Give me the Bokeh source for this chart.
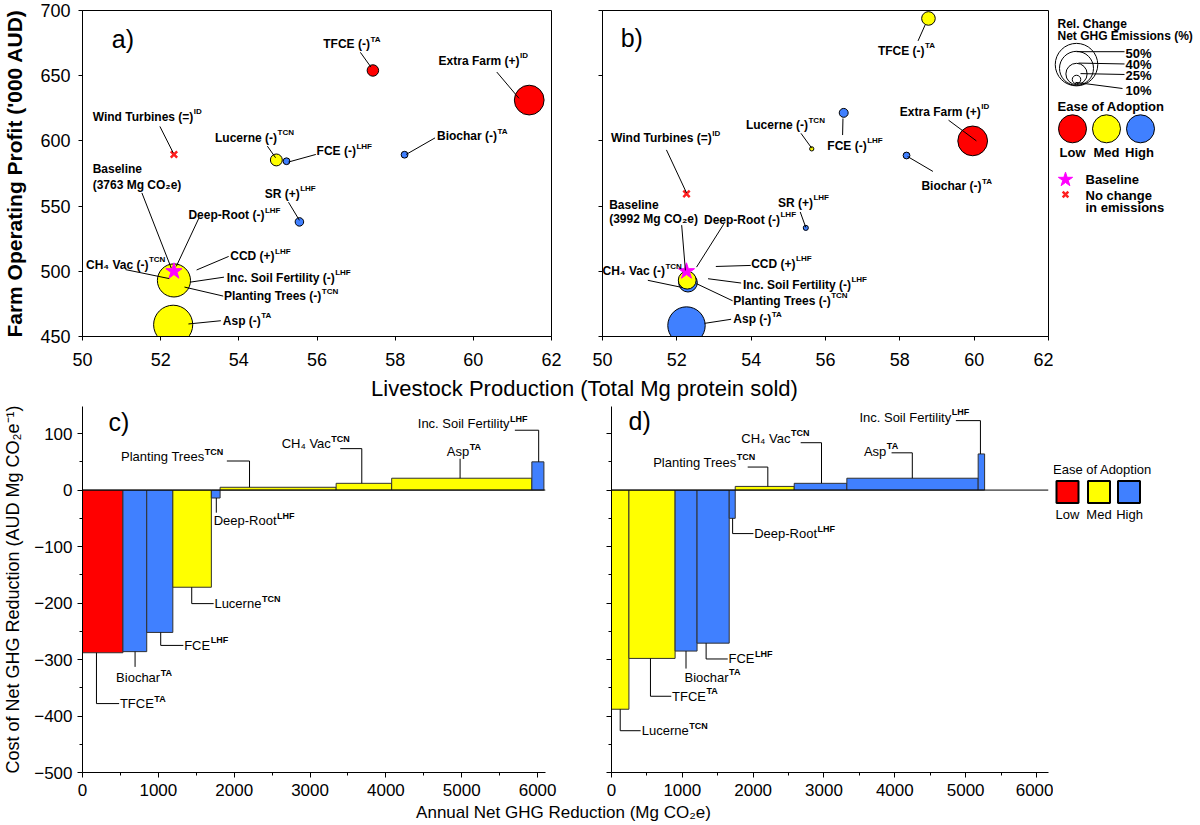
import glob
from bokeh.plotting import figure
from bokeh.layouts import column, row
from bokeh.models import Range1d, Span, FixedTicker, CustomLabelingPolicy
from bokeh.core.properties import value
from bokeh.embed import file_html
from bokeh.resources import INLINE

FONT = "Liberation Sans"

# ------------------------------------------------------------------ data
ease_colors = {"Low": "#ff0000", "Med": "#ffff00", "High": "#4080ff"}

# panel a) : livestock production vs operating profit (scenario 1)
a_option = ["TFCE", "Extra Farm", "Lucerne", "FCE", "Biochar", "SR", "CH4 Vac", "Asp"]
a_protein = [57.43, 61.43, 54.96, 55.22, 58.24, 55.55, 52.34, 52.32]
a_profit = [654.0, 631.3, 585.4, 584.4, 589.4, 537.9, 493.0, 459.0]
a_change_pct = [13.5, 35, 14, 8, 8, 10, 39, 46]
a_ease = ["Low", "Low", "Med", "High", "High", "High", "Med", "Med"]
a_baseline_protein = [52.34]
a_baseline_profit = [500.0]
a_nochange_protein = [52.34]
a_nochange_profit = [589.6]

# panel b) : scenario 2
b_option = ["TFCE", "FCE", "Lucerne", "Extra Farm", "Biochar", "SR", "Inc. Soil Fertility", "CH4 Vac", "Asp"]
b_protein = [58.77, 56.49, 55.63, 59.96, 58.18, 55.47, 52.30, 52.28, 52.26]
b_profit = [693.9, 621.5, 593.9, 600.0, 588.8, 533.3, 491.3, 493.2, 458.4]
b_change_pct = [16, 10.5, 5, 35, 8, 6, 22, 21, 44]
b_ease = ["Med", "High", "Med", "Low", "High", "High", "High", "Med", "High"]
b_baseline_protein = [52.26]
b_baseline_profit = [500.0]
b_nochange_protein = [52.26]
b_nochange_profit = [559.4]

# panel c) : marginal abatement cost curve (scenario 1)
c_option = ["TFCE", "Biochar", "FCE", "Lucerne", "Deep-Root", "Planting Trees", "CH4 Vac", "Asp", "Inc. Soil Fertility"]
c_reduction = [533, 314, 344, 508, 115, 1530, 732, 1848, 159]
c_cost = [-288, -286, -252, -172, -14, 5, 12, 21, 50]
c_ease = ["Low", "High", "High", "Med", "High", "Med", "Med", "Med", "High"]

# panel d) : marginal abatement cost curve (scenario 2)
d_option = ["Lucerne", "TFCE", "Biochar", "FCE", "Deep-Root", "Planting Trees", "CH4 Vac", "Asp", "Inc. Soil Fertility"]
d_reduction = [246, 652, 310, 454, 85, 833, 743, 1854, 91]
d_cost = [-388, -298, -285, -271, -50, 6.5, 12, 21, 64]
d_ease = ["Med", "Med", "High", "High", "High", "Med", "High", "High", "High"]

size_legend_pct = [50, 40, 25, 10]
ease_levels = ["Low", "Med", "High"]

top_xticks = [50, 52, 54, 56, 58, 60, 62]
top_yticks = [450, 500, 550, 600, 650, 700]
bot_xticks = [0, 1000, 2000, 3000, 4000, 5000, 6000]
bot_yticks = [-500, -400, -300, -200, -100, 0, 100]


def size_px(pct):
    return 0.85 * pct


# ------------------------------------------------------------------ text measuring
_font_cache = {}


def measure(text, size, style="normal"):
    try:
        from PIL import ImageFont
        key = (style, size)
        if key not in _font_cache:
            fname = "LiberationSans-Bold.ttf" if style == "bold" else "LiberationSans-Regular.ttf"
            paths = glob.glob("/usr/share/fonts/**/" + fname, recursive=True)
            _font_cache[key] = ImageFont.truetype(paths[0], size)
        return _font_cache[key].getlength(text)
    except Exception:
        f = 0.58 if style == "bold" else 0.54
        return sum((0.28 if ch == " " else f) * size for ch in text)


# ------------------------------------------------------------------ helpers
def base_fig(width, height, xr, yr, mbl, mbr, mbt, mbb):
    p = figure(width=width, height=height, x_range=xr, y_range=yr,
               output_backend="svg", toolbar_location=None,
               min_border_left=mbl, min_border_right=mbr,
               min_border_top=mbt, min_border_bottom=mbb)
    p.xgrid.visible = False
    p.ygrid.visible = False
    p.background_fill_color = "white"
    p.border_fill_color = "white"
    return p


def style_axes(p, size, tick_out, minor_out):
    for ax in (p.xaxis, p.yaxis):
        ax.axis_line_color = "black"
        ax.axis_line_width = 1
        ax.major_tick_line_color = "black"
        ax.minor_tick_line_color = "black"
        ax.major_tick_out = tick_out
        ax.major_tick_in = 0
        ax.minor_tick_out = minor_out
        ax.minor_tick_in = 0
        ax.major_label_text_font = FONT
        ax.major_label_text_font_size = size
        ax.major_label_text_color = "black"
        ax.axis_label_text_font = FONT
        ax.axis_label_text_color = "black"


def hide_tick_labels(ax):
    ax.major_label_policy = CustomLabelingPolicy(code="return []")
    ax.major_label_standoff = 0


def add_labels(p, labels, size, sup_size, style, sup_dy):
    xs, ys, tx = [], [], []
    sx, sy, st, so = [], [], [], []
    for main, sup, x, y in labels:
        xs.append(x)
        ys.append(y)
        tx.append(main)
        if sup:
            sx.append(x)
            sy.append(y)
            st.append(sup)
            so.append(measure(main, size, style) + 0.5)
    p.text(x=xs, y=ys, text=tx, text_font=value(FONT), text_font_size=f"{size}px",
           text_font_style=style, text_baseline="middle", text_align="left", text_color="black")
    if st:
        p.text(x=sx, y=sy, text=st, x_offset=so, y_offset=sup_dy, text_font=value(FONT),
               text_font_size=f"{sup_size}px", text_font_style="bold",
               text_baseline="middle", text_align="left", text_color="black")


def add_leaders(p, segs):
    p.multi_line(xs=[list(s[0]) for s in segs], ys=[list(s[1]) for s in segs],
                 line_color="black", line_width=1)


# ------------------------------------------------------------------ top panels
TOP_H = 372


def top_panel(width, mbl, mbr, option, px, py, pct, ease, bx, by, nx, ny, show_ylabels):
    p = base_fig(width, TOP_H, Range1d(50, 62), Range1d(450, 700), mbl, mbr, 10, 36)
    p.outline_line_color = "black"
    p.outline_line_width = 1
    style_axes(p, "18px", 4, 0)
    p.xaxis.ticker = FixedTicker(ticks=top_xticks, minor_ticks=[])
    p.yaxis.ticker = FixedTicker(ticks=top_yticks, minor_ticks=[])
    p.xaxis.major_label_standoff = 12
    p.yaxis.major_label_standoff = 8
    if show_ylabels:
        p.yaxis.axis_label = "Farm Operating Profit ('000 AUD)"
        p.yaxis.axis_label_text_font_size = "21px"
        p.yaxis.axis_label_text_font_style = "bold"
        p.yaxis.axis_label_standoff = 11
    else:
        hide_tick_labels(p.yaxis)
    order = sorted(range(len(option)), key=lambda i: -pct[i])
    p.scatter(x=[px[i] for i in order], y=[py[i] for i in order],
              size=[size_px(pct[i]) for i in order],
              fill_color=[ease_colors[ease[i]] for i in order],
              line_color="black", line_width=1, marker="circle")
    p.scatter(x=nx, y=ny, marker="x", size=9, line_color="#ff2020", line_width=2.5)
    p.scatter(x=bx, y=by, marker="star", size=17, fill_color="#ff00ff", line_color="#ff00ff")
    return p


pa = top_panel(565, 80, 14, a_option, a_protein, a_profit, a_change_pct, a_ease,
               a_baseline_protein, a_baseline_profit, a_nochange_protein, a_nochange_profit, True)
pb = top_panel(488, 14, 5, b_option, b_protein, b_profit, b_change_pct, b_ease,
               b_baseline_protein, b_baseline_profit, b_nochange_protein, b_nochange_profit, False)

# annotations panel a
a_labels = [
    ("TFCE (-)", "TA", 56.16, 674.2),
    ("Extra Farm (+)", "ID", 59.11, 661.6),
    ("Wind Turbines (=)", "ID", 50.26, 618.7),
    ("Lucerne (-)", "TCN", 53.39, 602.3),
    ("FCE (-)", "LHF", 55.99, 592.2),
    ("Biochar (-)", "TA", 59.07, 603.5),
    ("SR (+)", "LHF", 54.66, 559.3),
    ("Deep-Root (-)", "LHF", 52.71, 542.9),
    ("CCD (+)", "LHF", 53.78, 511.4),
    ("CH\u2084 Vac (-)", "TCN", 50.09, 505.0),
    ("Inc. Soil Fertility (-)", "LHF", 53.69, 494.9),
    ("Planting Trees (-)", "TCN", 53.62, 481.0),
    ("Asp (-)", "TA", 53.59, 462.1),
    ("Baseline", "", 50.26, 578.3),
    ("(3763 Mg CO\u2082e)", "", 50.26, 566.2),
]
a_leaders = [
    ((57.11, 57.38), (667.9, 656.6)),
    ((60.60, 61.17), (652.8, 632.6)),
    ((51.98, 52.32), (611.1, 590.9)),
    ((54.73, 54.94), (596.0, 587.1)),
    ((55.97, 55.27), (589.6, 583.8)),
    ((59.02, 58.28), (602.3, 589.6)),
    ((55.27, 55.55), (553.0, 539.1)),
    ((52.98, 52.40), (540.9, 503.8)),
    ((53.74, 52.92), (511.4, 501.0)),
    ((51.10, 52.22), (501.3, 494.4)),
    ((53.62, 52.76), (495.5, 491.7)),
    ((53.60, 52.61), (481.0, 487.9)),
    ((53.54, 52.71), (462.1, 459.6)),
    ((51.52, 52.27), (560.1, 502.5)),
]
add_leaders(pa, a_leaders)
add_labels(pa, a_labels, 12, 8, "bold", -5)
pa.text(x=[50.75], y=[678], text=["a)"], text_font=value(FONT), text_font_size="25px",
        text_baseline="middle", text_align="left", text_color="black")

b_labels = [
    ("TFCE (-)", "TA", 57.41, 669.1),
    ("Extra Farm (+)", "ID", 58.0, 622.2),
    ("Lucerne (-)", "TCN", 53.86, 612.1),
    ("FCE (-)", "LHF", 56.05, 596.1),
    ("Wind Turbines (=)", "ID", 50.23, 602.0),
    ("Biochar (-)", "TA", 58.58, 565.2),
    ("SR (+)", "LHF", 54.72, 552.6),
    ("Deep-Root (-)", "LHF", 52.73, 539.4),
    ("CCD (+)", "LHF", 54.0, 505.7),
    ("CH\u2084 Vac (-)", "TCN", 50.0, 499.9),
    ("Inc. Soil Fertility (-)", "LHF", 53.78, 489.8),
    ("Planting Trees (-)", "TCN", 53.52, 477.4),
    ("Asp (-)", "TA", 53.52, 463.2),
    ("Baseline", "", 50.18, 550.6),
    ("(3992 Mg CO\u2082e)", "", 50.18, 539.9),
]
b_leaders = [
    ((58.49, 58.68), (676.7, 688.9)),
    ((59.31, 60.06), (615.9, 600.0)),
    ((55.34, 55.63), (605.8, 594.4)),
    ((56.46, 56.47), (604.5, 617.2)),
    ((51.72, 52.26), (593.1, 560.2)),
    ((58.89, 58.21), (576.6, 588.0)),
    ((55.32, 55.47), (545.5, 533.6)),
    ((53.26, 52.53), (536.1, 503.2)),
    ((53.99, 53.05), (504.5, 503.7)),
    ((51.22, 52.16), (493.1, 487.5)),
    ((53.73, 52.84), (491.0, 494.3)),
    ((53.50, 52.53), (477.4, 490.5)),
    ((53.46, 52.75), (463.2, 460.1)),
    ((52.13, 52.23), (535.4, 500.7)),
]
add_leaders(pb, b_leaders)
add_labels(pb, b_labels, 12, 8, "bold", -5)
pb.text(x=[50.49], y=[679], text=["b)"], text_font=value(FONT), text_font_size="25px",
        text_baseline="middle", text_align="left", text_color="black")


# ------------------------------------------------------------------ top legend (screen-like coords)
def blank_fig(width, height, xr, yr):
    p = figure(width=width, height=height, x_range=xr, y_range=yr,
               x_axis_type=None, y_axis_type=None, min_border=0, output_backend="svg",
               toolbar_location=None)
    p.outline_line_color = None
    p.grid.visible = False
    p.background_fill_color = "white"
    p.border_fill_color = "white"
    return p


def ltext(p, x, y, t, size="12px", style="bold", align="left"):
    p.text(x=x, y=y, text=t, text_font=value(FONT), text_font_size=size, text_font_style=style,
           text_baseline="middle", text_align=align, text_color="black")


l1 = blank_fig(147, TOP_H, Range1d(1053, 1200), Range1d(TOP_H, 0))
ltext(l1, [1057, 1057], [15, 29], ["Rel. Change", "Net GHG Emissions (%)"])
d_leg = [size_px(v) for v in size_legend_pct]
l1.scatter(x=[1076] * 4, y=[83 - d / 2 for d in d_leg], size=d_leg, marker="circle",
           fill_color=None, line_color="black", line_width=1)
l1.multi_line(xs=[[1076, 1124], [1078, 1124], [1080, 1124], [1075, 1122]],
              ys=[[47, 47], [60, 61], [72, 73], [82, 89]], line_color="black", line_width=1)
ltext(l1, [1125] * 4, [49, 62, 74, 91], [f"{v}%" for v in size_legend_pct], size="13px")
ltext(l1, [1057], [110], ["Ease of Adoption"], size="13px")
l1.scatter(x=[1072, 1106, 1140], y=[135, 135, 135], size=28, marker="circle",
           fill_color=[ease_colors[e] for e in ease_levels], line_color="black", line_width=1)
ltext(l1, [1072, 1106, 1139], [162, 162, 162], ease_levels, size="13px", align="center")
l1.scatter(x=[1065], y=[193], marker="star", size=15, fill_color="#ff00ff", line_color="#ff00ff")
l1.scatter(x=[1065], y=[210], marker="x", size=8, line_color="#ff2020", line_width=2.5)
ltext(l1, [1085, 1085, 1085], [193, 211, 225], ["Baseline", "No change", "in emissions"],
      size="13px")

# ------------------------------------------------------------------ strip with shared x title (top)
S1_H = 32
s1 = blank_fig(1200, S1_H, Range1d(0, 1200), Range1d(TOP_H + S1_H, TOP_H))
s1.text(x=[584], y=[388], text=["Livestock Production (Total Mg protein sold)"],
        text_font=value(FONT), text_font_size="22px", text_baseline="middle",
        text_align="center", text_color="black")

# ------------------------------------------------------------------ bottom panels
BOT_TOP = TOP_H + S1_H
BOT_H = 398


def macc_panel(width, mbl, mbr, xmax, option, reduction, cost, ease, show_ylabels):
    p = base_fig(width, BOT_H, Range1d(0, xmax), Range1d(-500, 148), mbl, mbr, 2, 30)
    p.outline_line_color = None
    style_axes(p, "17px", 5, 3)
    p.xaxis.ticker = FixedTicker(ticks=bot_xticks, minor_ticks=[t + 500 for t in bot_xticks])
    p.yaxis.ticker = FixedTicker(ticks=bot_yticks, minor_ticks=[t + 50 for t in bot_yticks])
    p.xaxis.major_label_standoff = 6
    p.yaxis.major_label_standoff = 5
    p.yaxis.major_label_overrides = {t: str(t).replace("-", "\u2212") for t in bot_yticks}
    if show_ylabels:
        p.yaxis.axis_label = "Cost of Net GHG Reduction (AUD Mg CO\u2082e\u207b\u00b9)"
        p.yaxis.axis_label_text_font_size = "18px"
        p.yaxis.axis_label_text_font_style = "normal"
        p.yaxis.axis_label_standoff = 8
    else:
        hide_tick_labels(p.yaxis)
    left, right = [], []
    acc = 0
    for r in reduction:
        left.append(acc)
        acc += r
        right.append(acc)
    p.quad(left=left, right=right, top=[max(c, 0) for c in cost], bottom=[min(c, 0) for c in cost],
           fill_color=[ease_colors[e] for e in ease], line_color="#303030", line_width=1)
    p.add_layout(Span(location=0, dimension="width", line_color="black", line_width=1))
    return p


pc = macc_panel(565, 77, 20, 6104, c_option, c_reduction, c_cost, c_ease, True)
pd_ = macc_panel(488, 14, 5, 6170, d_option, d_reduction, d_cost, d_ease, False)

c_labels = [
    ("TFCE", "TA", 493, -378),
    ("Biochar", "TA", 443, -332),
    ("FCE", "LHF", 1340, -275),
    ("Lucerne", "TCN", 1739, -201),
    ("Deep-Root", "LHF", 1729, -54),
    ("Planting Trees", "TCN", 508, 58.6),
    ("CH\u2084 Vac", "TCN", 2626, 82),
    ("Asp", "TA", 4803, 67.5),
    ("Inc. Soil Fertility", "LHF", 4420, 117.8),
]
c_leaders = [
    ((184, 184, 483), (-288, -378, -378)),
    ((693, 693), (-286, -313)),
    ((1031, 1031, 1330), (-252, -275, -275)),
    ((1440, 1440, 1729), (-172, -201, -201)),
    ((1764, 1764), (-14, -40)),
    ((1903, 2202, 2202), (51.5, 51.5, 5)),
    ((3398, 3682, 3682), (73.4, 73.4, 12)),
    ((4978, 4978), (55.6, 21)),
    ((5700, 6014, 6014), (106, 106, 50)),
]
add_leaders(pc, c_leaders)
add_labels(pc, c_labels, 13, 9, "normal", -5)
pc.text(x=[344], y=[120.7], text=["c)"], text_font=value(FONT), text_font_size="25px",
        text_baseline="middle", text_align="left", text_color="black")

d_labels = [
    ("Lucerne", "TCN", 427, -426),
    ("TFCE", "TA", 855, -365),
    ("Biochar", "TA", 1031, -331),
    ("FCE", "LHF", 1651, -299),
    ("Deep-Root", "LHF", 2014, -77),
    ("Planting Trees", "TCN", 588, 49.6),
    ("CH\u2084 Vac", "TCN", 1833, 92),
    ("Asp", "TA", 3564, 68.5),
    ("Inc. Soil Fertility", "LHF", 3500, 129),
]
d_leaders = [
    ((123, 123, 411), (-388, -426, -426)),
    ((550, 550, 844), (-298, -365, -365)),
    ((1052, 1052), (-285, -316)),
    ((1336, 1336, 1641), (-271, -299, -299)),
    ((1710, 1710, 2004), (-50, -77, -77)),
    ((1923, 2207, 2207), (40.8, 40.8, 6.5)),
    ((2671, 2965, 2965), (83.9, 83.9, 12)),
    ((3954, 4247, 4247), (66, 66, 21)),
    ((4862, 5209, 5209), (123, 123, 64)),
]
add_leaders(pd_, d_leaders)
add_labels(pd_, d_labels, 13, 9, "normal", -5)
pd_.text(x=[240], y=[123], text=["d)"], text_font=value(FONT), text_font_size="25px",
         text_baseline="middle", text_align="left", text_color="black")

# ------------------------------------------------------------------ bottom legend
l2 = blank_fig(147, BOT_H, Range1d(1053, 1200), Range1d(BOT_TOP + BOT_H, BOT_TOP))
ltext(l2, [1102], [473], ["Ease of Adoption"], size="13px", style="normal", align="center")
l2.scatter(x=[1067, 1098.5, 1128.5], y=[497, 497, 497], size=22, marker="square",
           fill_color=[ease_colors[e] for e in ease_levels], line_color="black", line_width=2)
ltext(l2, [1067, 1098.5, 1129], [521, 521, 521], ease_levels, size="13px", style="normal",
      align="center")

# ------------------------------------------------------------------ strip with shared x title (bottom)
S2_TOP = BOT_TOP + BOT_H
S2_H = 22
s2 = blank_fig(1200, S2_H, Range1d(0, 1200), Range1d(S2_TOP + S2_H, S2_TOP))
s2.text(x=[563], y=[812], text=["Annual Net GHG Reduction (Mg CO\u2082e)"],
        text_font=value(FONT), text_font_size="17px", text_baseline="middle",
        text_align="center", text_color="black")

layout = column(row(pa, pb, l1), s1, row(pc, pd_, l2), s2)
open("out.html", "w").write(file_html(layout, INLINE))
